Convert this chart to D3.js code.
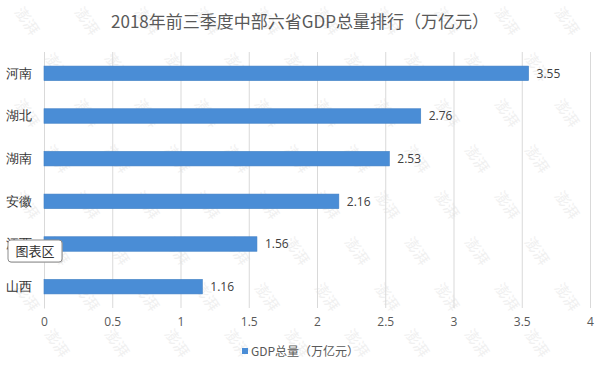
<!DOCTYPE html>
<html>
<head>
<meta charset="utf-8">
<script src="https://cdn.jsdelivr.net/npm/d3@7"></script>
<style>
  body { margin: 0; background: #fff; }
  svg { font-family: "Noto Sans CJK SC", "Noto Sans", sans-serif; }
</style>
</head>
<body>
<div id="chart"></div>
<script>
var provinces = ["河南", "湖北", "湖南", "安徽", "江西", "山西"];
var gdpValues = [3.55, 2.76, 2.53, 2.16, 1.56, 1.16];
var xTicks = [0, 0.5, 1, 1.5, 2, 2.5, 3, 3.5, 4];
var title = "2018年前三季度中部六省GDP总量排行（万亿元）";
var seriesName = "GDP总量（万亿元）";

var width = 600, height = 368;
var margin = { top: 52, right: 10, bottom: 60, left: 44 };

var svg = d3.select("#chart")
  .append("svg")
  .attr("width", width)
  .attr("height", height);

// faint watermark, kept inside the picture
var wm = svg.append("g").attr("fill", "#f0f0f0").style("font-size", "15px");
for (var r = 0; r < 8; r++) {
  for (var c = 0; c < 10; c++) {
    var wx = c * 60 + (r % 2) * 30 + 14;
    var wy = r * 46 + 12;
    if (wx > 580 || wy > 340) continue;
    wm.append("text")
      .attr("transform", "translate(" + wx + "," + wy + ") rotate(55)")
      .text("澎湃");
  }
}

var x = d3.scaleLinear()
  .domain([0, 4])
  .range([margin.left, width - margin.right]);

var y = d3.scaleBand()
  .domain(provinces)
  .range([margin.top, height - margin.bottom])
  .paddingInner(0.66)
  .paddingOuter(0.33);

// gridlines
svg.append("g")
  .selectAll("line")
  .data(xTicks)
  .enter()
  .append("line")
  .attr("x1", d => x(d) + 0.5)
  .attr("x2", d => x(d) + 0.5)
  .attr("y1", margin.top)
  .attr("y2", height - margin.bottom)
  .attr("stroke", "#d9d9d9");

// x axis labels
var xAxis = d3.axisBottom(x)
  .tickValues(xTicks)
  .tickFormat(d3.format(""))
  .tickSize(0)
  .tickPadding(9);

var xAxisG = svg.append("g")
  .attr("transform", "translate(0," + (height - margin.bottom) + ")")
  .call(xAxis);
xAxisG.select(".domain").remove();
xAxisG.selectAll("text")
  .style("font-size", "12px")
  .style("font-family", "Open Sans, sans-serif")
  .attr("fill", "#595959");

// y axis labels
var yAxis = d3.axisLeft(y).tickSize(0).tickPadding(12);
var yAxisG = svg.append("g")
  .attr("transform", "translate(" + margin.left + ",0)")
  .call(yAxis);
yAxisG.select(".domain").attr("stroke", "#d9d9d9");
yAxisG.selectAll("text")
  .style("font-size", "13px")
  .attr("fill", "#333");

// bars
svg.selectAll("rect.bar")
  .data(gdpValues)
  .enter()
  .append("rect")
  .attr("class", "bar")
  .attr("x", x(0))
  .attr("y", (d, i) => y(provinces[i]))
  .attr("width", d => x(d) - x(0))
  .attr("height", y.bandwidth())
  .attr("fill", "#4a8dd6")
  .attr("stroke", "#3f7fc4")
  .attr("stroke-width", 0.6);

// value labels
svg.selectAll("text.value")
  .data(gdpValues)
  .enter()
  .append("text")
  .attr("class", "value")
  .attr("x", d => x(d) + 8)
  .attr("y", (d, i) => y(provinces[i]) + y.bandwidth() / 2)
  .attr("dy", "0.35em")
  .text(d => d.toFixed(2))
  .style("font-size", "12px")
  .style("font-family", "Open Sans, sans-serif")
  .attr("fill", "#404040");

// title
svg.append("text")
  .attr("x", 300)
  .attr("y", 28)
  .attr("text-anchor", "middle")
  .text(title)
  .style("font-size", "17px")
  .attr("fill", "#595959");

// legend
var legend = svg.append("g").attr("transform", "translate(242,352)");
legend.append("rect")
  .attr("x", 0).attr("y", -4)
  .attr("width", 6).attr("height", 6)
  .attr("fill", "#4a8dd6");
legend.append("text")
  .attr("x", 9)
  .attr("y", 0)
  .attr("dy", "0.35em")
  .text(seriesName)
  .style("font-size", "12px")
  .attr("fill", "#595959");

// "图表区" tooltip
var tip = svg.append("g").attr("transform", "translate(8,240)");
tip.append("rect")
  .attr("x", 1).attr("y", 1)
  .attr("width", 54).attr("height", 22)
  .attr("rx", 3)
  .attr("fill", "#bbb")
  .attr("opacity", 0.5);
tip.append("rect")
  .attr("width", 54).attr("height", 22)
  .attr("rx", 3)
  .attr("fill", "#fff")
  .attr("stroke", "#8c8c8c");
tip.append("text")
  .attr("x", 27).attr("y", 11)
  .attr("dy", "0.35em")
  .attr("text-anchor", "middle")
  .text("图表区")
  .style("font-size", "13px")
  .attr("fill", "#333");
</script>
</body>
</html>
